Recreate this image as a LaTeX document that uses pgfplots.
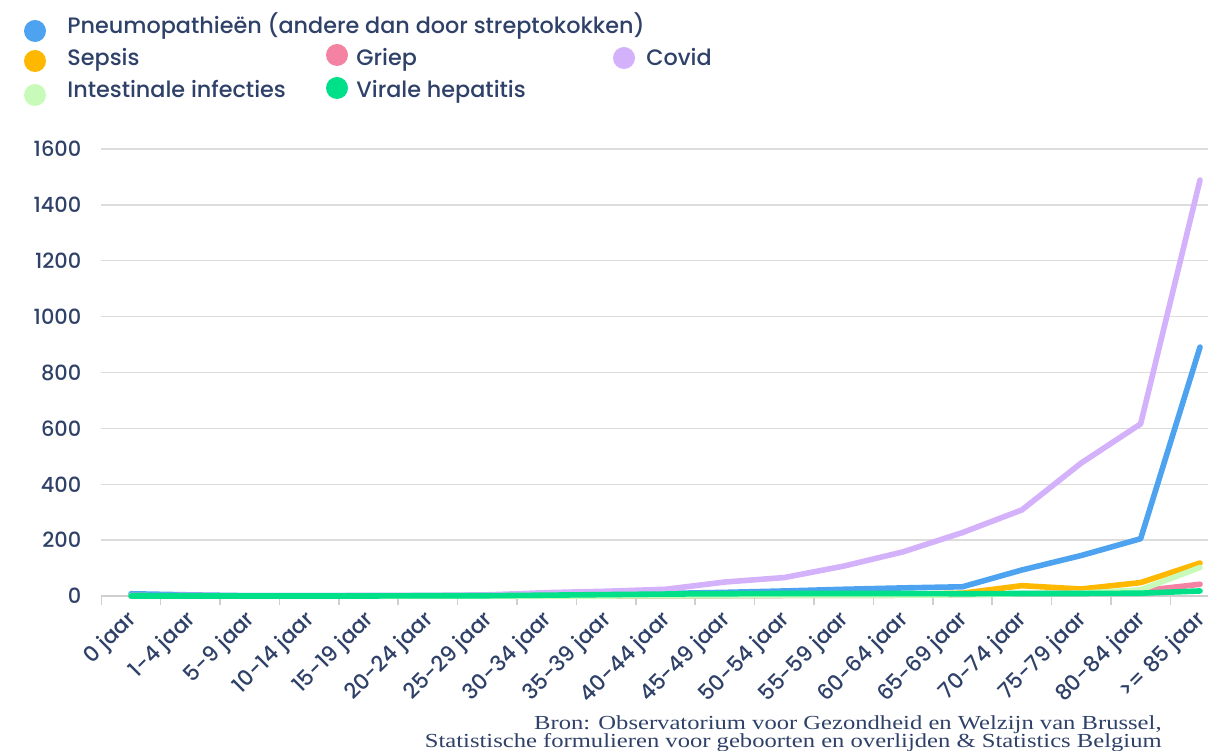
\documentclass[border=0pt]{standalone}
\usepackage{pgfplots}
\pgfplotsset{compat=1.18}
\usepackage{fontspec}
\setmainfont{Poppins}[UprightFont={* Medium}]
\newfontfamily\srcfont{Liberation Serif}
\definecolor{txt}{HTML}{2F4168}
\definecolor{gridc}{HTML}{DCDCDC}
\definecolor{axc}{HTML}{CFCFCF}
\definecolor{cpneu}{HTML}{4DA3EF}
\definecolor{csep}{HTML}{FFB800}
\definecolor{cgriep}{HTML}{F382A3}
\definecolor{ccovid}{HTML}{D4B1FB}
\definecolor{cint}{HTML}{C8FBB9}
\definecolor{cvir}{HTML}{00E088}
\pgfplotstableread{
x pneu sep griep covid int vir
0 8 1 0 0 1 0
1 4 0 1 2 0 0
2 1 0 0 1 0 0
3 1 0 0 1 0 0
4 1 0 0 2 0 0
5 1 0 0 2 0 1
6 2 0 0 4 0 1
7 4 1 0 12 0 3
8 6 1 0 17 0 5
9 9 2 1 24 1 7
10 13 3 1 50 1 8
11 18 4 2 66 2 9
12 24 5 2 107 2 9
13 29 6 3 158 3 9
14 33 10 5 227 4 8
15 93 37 8 308 8 9
16 145 25 10 476 10 9
17 205 48 18 616 22 10
18 891 118 42 1489 102 18
}\datatable
\begin{document}
\begin{tikzpicture}
\begin{axis}[
  at={(50.65bp,77.5bp)}, anchor=south west,
  scale only axis, width=564.2bp, height=223.5bp,
  xmin=-0.5, xmax=18.5, ymin=0, ymax=1600,
  axis x line*=bottom, axis y line*=left,
  x axis line style={draw=axc, line width=0.8bp},
  y axis line style={draw=none},
  ytick={0,200,...,1600},
  ytick style={draw=none},
  ymajorgrids, grid style={draw=gridc, line width=0.7bp},
  yticklabel style={font=\fontsize{10.5}{12}\selectfont, text=txt, xshift=-2bp},
  /pgf/number format/assume math mode=true,
  /pgf/number format/1000 sep={},
  xtick={-0.5,0.5,...,17.5},
  xticklabels={},
  tick align=outside,
  x tick style={draw=axc, line width=0.8bp},
  major tick length=4.5bp,
  extra x ticks={0,1,...,18},
  extra x tick labels={0 jaar,1-4 jaar,5-9 jaar,10-14 jaar,15-19 jaar,20-24 jaar,25-29 jaar,30-34 jaar,35-39 jaar,40-44 jaar,45-49 jaar,50-54 jaar,55-59 jaar,60-64 jaar,65-69 jaar,70-74 jaar,75-79 jaar,80-84 jaar,>= 85 jaar},
  extra x tick style={major tick length=0pt, grid=none,
    tick label style={rotate=45, anchor=east, font=\fontsize{10.8}{12}\selectfont, text=txt, xshift=-3bp, yshift=-8bp}},
  clip=false,
  every axis plot/.append style={line width=2.8bp, line join=round, line cap=round, mark=none},
]
\addplot[cpneu] table[x=x,y=pneu]{\datatable};
\addplot[csep] table[x=x,y=sep]{\datatable};
\addplot[cgriep] table[x=x,y=griep]{\datatable};
\addplot[ccovid] table[x=x,y=covid]{\datatable};
\addplot[cint] table[x=x,y=int]{\datatable};
\addplot[cvir] table[x=x,y=vir]{\datatable};
\end{axis}
\begin{scope}[every node/.style={font=\fontsize{11.2}{13}\selectfont, text=txt, inner sep=0pt, anchor=base west}]
\fill[cpneu] (17.5bp,360bp) circle (5.5bp);
\node at (33.5bp,358.5bp) {Pneumopathieën (andere dan door streptokokken)};
\fill[csep] (17.5bp,345bp) circle (5.5bp);
\node at (33.5bp,342.5bp) {Sepsis};
\fill[cgriep] (168.5bp,348bp) circle (5.5bp);
\node at (178bp,342.5bp) {Griep};
\fill[ccovid] (312bp,346.5bp) circle (5.5bp);
\node at (323bp,342.5bp) {Covid};
\fill[cint] (17.5bp,328bp) circle (5.5bp);
\node at (33.5bp,326.5bp) {Intestinale infecties};
\fill[cvir] (168.5bp,331.5bp) circle (5.5bp);
\node at (178bp,326.5bp) {Virale hepatitis};
\end{scope}
\begin{scope}[every node/.style={font=\srcfont\fontsize{10}{12}\selectfont, text=txt, inner sep=0pt, anchor=base east}]
\node at (581bp,11bp) {\scalebox{1.235}[1]{Bron: Observatorium voor Gezondheid en Welzijn van Brussel,}};
\node at (581bp,2bp) {\scalebox{1.235}[1]{Statistische formulieren voor geboorten en overlijden \& Statistics Belgium}};
\end{scope}
\pgfresetboundingbox
\path[use as bounding box] (0,0) rectangle (604bp,375.5bp);
\end{tikzpicture}
\end{document}
